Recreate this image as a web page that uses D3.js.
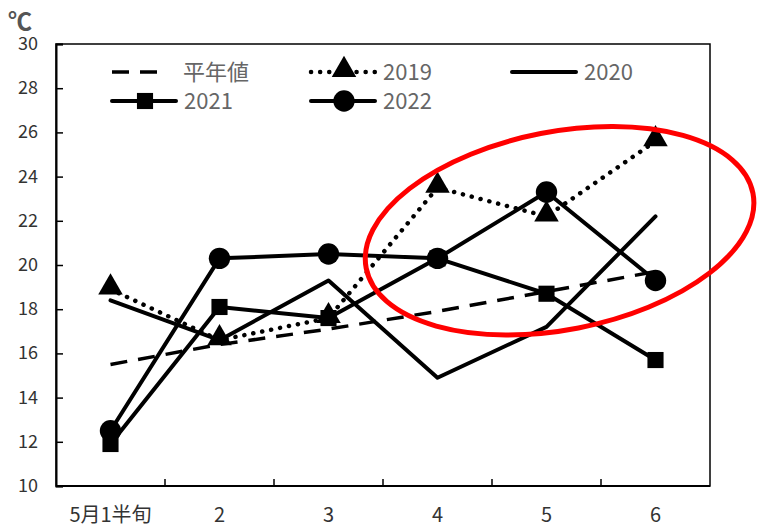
<html>
<head>
<meta charset="utf-8">
<script src="https://cdn.jsdelivr.net/npm/d3@7"></script>
<style>
  body { margin: 0; background: #fff; }
  text { font-family: "Noto Sans CJK JP", "Noto Sans", sans-serif; }
</style>
</head>
<body>
<svg id="chart" width="762" height="530"></svg>
<script>
// half-month periods (半旬) of May
var categories = ["5月1半旬", "2", "3", "4", "5", "6"];
var normal = [15.5, 16.4, 17.1, 17.9, 18.8, 19.7];   // 平年値
var y2019 = [18.9, 16.6, 17.6, 23.5, 22.2, 25.6];
var y2020 = [18.4, 16.6, 19.3, 14.9, 17.2, 22.2];
var y2021 = [11.9, 18.1, 17.6, 20.3, 18.7, 15.7];
var y2022 = [12.5, 20.3, 20.5, 20.3, 23.3, 19.3];
var yTicks = [10, 12, 14, 16, 18, 20, 22, 24, 26, 28, 30];

var svg = d3.select("#chart"),
    pLeft = 56, pRight = 710, pTop = 44, pBottom = 486;

var x = d3.scaleBand().domain(categories).range([pLeft, pRight]);
var xc = function(i) { return x(categories[i]) + x.bandwidth() / 2; };
var y = d3.scaleLinear().domain([10, 30]).range([pBottom, pTop]);

// plot frame
svg.append("rect")
    .attr("x", pLeft).attr("y", pTop)
    .attr("width", pRight - pLeft).attr("height", pBottom - pTop)
    .attr("fill", "none").attr("stroke", "#000").attr("stroke-width", 1.5);

// y axis
var yAxis = svg.append("g")
    .attr("transform", "translate(" + pLeft + ",0)")
    .call(d3.axisRight(y).tickValues(yTicks).tickSize(7).tickFormat(""));
yAxis.select(".domain").attr("stroke-width", 2);
yAxis.selectAll(".tick line").attr("stroke-width", 1.5);

svg.selectAll(".ylab")
  .data(yTicks)
  .enter().append("text")
    .attr("x", 38).attr("y", function(d) { return y(d) + 6; })
    .attr("text-anchor", "end")
    .attr("font-size", 18).attr("fill", "#333")
    .text(function(d) { return d; });

svg.append("text")
    .attr("x", 8).attr("y", 30)
    .attr("font-size", 24).attr("font-weight", "bold").attr("fill", "#555")
    .text("℃");

// x axis: ticks at band boundaries, pointing up
var xb = svg.append("g");
xb.append("line")
    .attr("x1", pLeft).attr("x2", pRight).attr("y1", pBottom).attr("y2", pBottom)
    .attr("stroke", "#000").attr("stroke-width", 2);
xb.selectAll(".xt")
  .data(categories.slice(1))
  .enter().append("line")
    .attr("x1", function(d) { return x(d); }).attr("x2", function(d) { return x(d); })
    .attr("y1", pBottom).attr("y2", pBottom - 7)
    .attr("stroke", "#000").attr("stroke-width", 1.5);

svg.selectAll(".xlab")
  .data(categories)
  .enter().append("text")
    .attr("x", function(d) { return x(d) + x.bandwidth() / 2; })
    .attr("y", 522)
    .attr("text-anchor", "middle")
    .attr("font-size", 20).attr("fill", "#333")
    .text(function(d) { return d; });

// series
var line = d3.line()
    .x(function(d, i) { return xc(i); })
    .y(function(d) { return y(d); });

var series = [
  {name: "平年値", values: normal, dash: "17,11", cap: "butt", width: 3.5, marker: null},
  {name: "2019", values: y2019, dash: "0.1,9", cap: "round", width: 4.5, marker: "triangle"},
  {name: "2020", values: y2020, dash: null, cap: "round", width: 4, marker: null},
  {name: "2021", values: y2021, dash: null, cap: "round", width: 4, marker: "square"},
  {name: "2022", values: y2022, dash: null, cap: "round", width: 4, marker: "circle"}
];

var symbols = {
  triangle: d3.symbol().type(d3.symbolTriangle).size(260),
  square: d3.symbol().type(d3.symbolSquare).size(260),
  circle: d3.symbol().type(d3.symbolCircle).size(360)
};

function drawMarker(g, type, cx, cy) {
  g.append("path")
      .attr("d", symbols[type]())
      .attr("transform", "translate(" + cx + "," + (type == "triangle" ? cy - 2 : cy) + ")")
      .attr("fill", "#000");
}

series.forEach(function(s) {
  var g = svg.append("g");
  g.append("path")
      .attr("d", line(s.values))
      .attr("fill", "none").attr("stroke", "#000")
      .attr("stroke-width", s.width)
      .attr("stroke-linecap", s.cap)
      .attr("stroke-linejoin", "round")
      .attr("stroke-dasharray", s.dash);
  if (s.marker) {
    s.values.forEach(function(v, i) { drawMarker(g, s.marker, xc(i), y(v)); });
  }
});

// legend
var legendPos = [[112, 72], [311, 72], [512, 72], [112, 101], [311, 101]];
series.forEach(function(s, i) {
  var p = legendPos[i], w = i == 0 ? 50 : 64;
  var g = svg.append("g").attr("transform", "translate(" + p[0] + "," + p[1] + ")");
  g.append("line")
      .attr("x1", 0).attr("x2", w).attr("y1", 0).attr("y2", 0)
      .attr("stroke", "#000").attr("stroke-width", s.width)
      .attr("stroke-linecap", s.cap)
      .attr("stroke-dasharray", s.dash);
  if (s.marker) drawMarker(g, s.marker, 33, 0);
  g.append("text")
      .attr("x", i == 0 ? 71 : 72).attr("y", 8)
      .attr("font-size", 22).attr("fill", "#666")
      .text(s.name);
});

// red ellipse annotation
var xi = d3.scaleLinear().domain([0, 5]).range([xc(0), xc(5)]);
svg.append("ellipse")
    .attr("cx", 0).attr("cy", 0)
    .attr("rx", 197).attr("ry", 99)
    .attr("transform", "translate(" + xi(4.12) + "," + y(21.55) + ") rotate(-11)")
    .attr("fill", "none").attr("stroke", "#f00").attr("stroke-width", 5);
</script>
</body>
</html>
